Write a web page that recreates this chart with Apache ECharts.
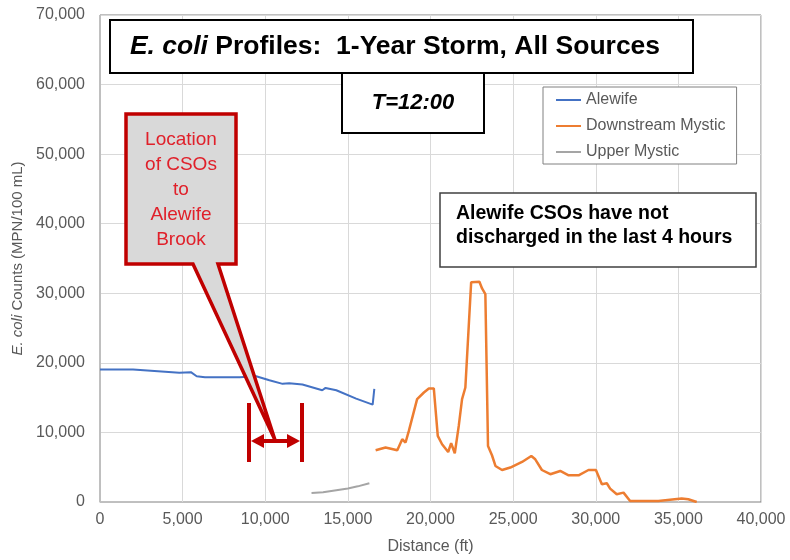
<!DOCTYPE html>
<html>
	<head>
		<meta charset="utf-8">
		<title>E. coli Profiles</title>
		<script src="https://cdn.jsdelivr.net/npm/echarts@6/dist/echarts.min.js"></script>
		<style>
			html, body { margin: 0; padding: 0; background: #fff; }
			#chart { width: 790px; height: 560px; }
		</style>
	</head>
	<body>
		<div id="chart"></div>
		<script>
			// 数据：距离 (ft) 与 E. coli 计数
			var seriesNames = ['Alewife', 'Downstream Mystic', 'Upper Mystic'];

			var alewifeX = [0, 2000, 4800, 5500, 5850, 6350, 8450, 9450, 10250, 11050, 11450, 12250, 13450, 13650, 14300, 15500, 16500, 16600];
			var alewifeY = [19050, 19050, 18570, 18660, 18080, 17940, 17940, 18080, 17500, 16980, 17070, 16880, 16060, 16400, 16060, 14860, 14000, 16260];

			var downX = [16680, 17280, 17990, 18290, 18490, 18690, 19190, 19600, 19900, 20200, 20440, 20700, 21070, 21250, 21470, 21710, 21910, 22110,
				22460, 22960, 23120, 23320, 23480, 23720, 23930, 24330, 24830, 25540, 26100, 26340, 26740, 27250, 27850, 28360, 28960,
				29560, 30010, 30370, 30670, 30870, 31270, 31680, 32080, 33790, 35200, 35600, 36110];
			var downY = [7440, 7830, 7440, 9020, 8550, 10220, 14780, 15740, 16320, 16320, 9500, 8300, 7190, 8450, 7010, 10940, 14780, 16460,
				31570, 31660, 30700, 29880, 8060, 6720, 5180, 4600, 4950, 5760, 6620, 6140, 4600, 3990, 4460, 3840, 3840,
				4600, 4600, 2550, 2690, 1930, 1110, 1350, 140, 140, 490, 390, 0];

			var upperX = [12800, 13500, 14300, 15000, 15600, 16300];
			var upperY = [1300, 1400, 1700, 1950, 2250, 2700];

			var colors = ['#4472c4', '#ed7d31', '#a5a5a5'];
			var FONT = '"Liberation Sans", Arial, sans-serif';

			function pairs(xs, ys) {
				var out = [];
				for (var i = 0; i < xs.length; i++) out.push([xs[i], ys[i]]);
				return out;
			}
			function comma(v) {
				return String(v).replace(/\B(?=(\d{3})+(?!\d))/g, ',');
			}

			var myChart = echarts.init(document.getElementById('chart'), null, { renderer: 'canvas' });

			var option = {
				animation: false,
				backgroundColor: '#fff',
				color: colors,
				grid: {
					left: 100, right: 29, top: 15, bottom: 57,
					show: true, borderColor: '#808080', borderWidth: 1
				},
				legend: {
					data: seriesNames,
					orient: 'vertical',
					left: 543, top: 87,
					padding: [5, 11, 4, 13],
					itemGap: 10,
					itemWidth: 25,
					itemHeight: 2,
					icon: 'rect',
					backgroundColor: '#fff',
					borderColor: '#808080',
					borderWidth: 1,
					textStyle: { fontSize: 16, color: '#595959', fontFamily: FONT },
					z: 10
				},
				xAxis: {
					type: 'value',
					min: 0, max: 40000, interval: 5000,
					name: 'Distance (ft)',
					nameLocation: 'middle',
					nameGap: 37,
					nameTextStyle: { fontSize: 16, color: '#595959', fontFamily: FONT },
					axisLine: { lineStyle: { color: '#bfbfbf' } },
					axisTick: { show: false },
					axisLabel: { fontSize: 16, color: '#595959', fontFamily: FONT, margin: 10, formatter: comma },
					splitLine: { lineStyle: { color: '#d9d9d9' } }
				},
				yAxis: {
					type: 'value',
					min: 0, max: 70000, interval: 10000,
					name: '{i|E. coli} Counts (MPN/100 mL)',
					nameLocation: 'middle',
					nameGap: 72,
					nameTextStyle: {
						fontSize: 15, color: '#595959', fontFamily: FONT,
						rich: { i: { fontStyle: 'italic', fontSize: 15, color: '#595959', fontFamily: FONT } }
					},
					axisLine: { show: true, lineStyle: { color: '#bfbfbf' } },
					axisTick: { show: false },
					axisLabel: { fontSize: 16, color: '#595959', fontFamily: FONT, margin: 15, formatter: comma },
					splitLine: { lineStyle: { color: '#d9d9d9' } }
				},
				series: [
					{ name: seriesNames[0], type: 'line', data: pairs(alewifeX, alewifeY), showSymbol: false, symbol: 'none', lineStyle: { width: 2, color: colors[0] } },
					{ name: seriesNames[1], type: 'line', data: pairs(downX, downY), showSymbol: false, symbol: 'none', lineStyle: { width: 2.5, color: colors[1] } },
					{ name: seriesNames[2], type: 'line', data: pairs(upperX, upperY), showSymbol: false, symbol: 'none', lineStyle: { width: 2, color: colors[2] } }
				],
				graphic: [
					// T=12:00 框
					{ type: 'rect', z: 20, shape: { x: 342, y: 73, width: 142, height: 60 }, style: { fill: '#fff', stroke: '#000', lineWidth: 2 } },
					{ type: 'text', z: 21, style: { x: 413, y: 103, text: 'T=12:00', textAlign: 'center', textVerticalAlign: 'middle',
						font: 'italic bold 22px ' + FONT, fill: '#000' } },
					// 标题框
					{ type: 'rect', z: 20, shape: { x: 110, y: 20, width: 583, height: 53 }, style: { fill: '#fff', stroke: '#000', lineWidth: 2 } },
					{ type: 'text', z: 21, style: { x: 395, y: 47, text: '{i|E. coli} Profiles:  1-Year Storm, All Sources',
						textAlign: 'center', textVerticalAlign: 'middle', font: 'bold 26.5px ' + FONT, fill: '#000',
						rich: { i: { font: 'italic bold 26.5px ' + FONT, fill: '#000' } } } },
					// 右侧说明框
					{ type: 'rect', z: 20, shape: { x: 440, y: 193, width: 316, height: 74 }, style: { fill: '#fff', stroke: '#404040', lineWidth: 1.5 } },
					{ type: 'text', z: 21, style: { x: 456, y: 202, text: 'Alewife CSOs have not\ndischarged in the last 4 hours',
						textAlign: 'left', textVerticalAlign: 'top', font: 'bold 19.5px ' + FONT, lineHeight: 24, fill: '#000' } },
					// 红色标注框
					{ type: 'polygon', z: 20, shape: { points: [[126, 114], [236, 114], [236, 264], [218, 264], [275, 440], [193, 264], [126, 264]] },
						style: { fill: '#d9d9d9', stroke: '#c00000', lineWidth: 3.5, lineJoin: 'miter' } },
					{ type: 'text', z: 21, style: { x: 181, y: 127, text: 'Location\nof CSOs\nto\nAlewife\nBrook',
						textAlign: 'center', textVerticalAlign: 'top', font: '19px ' + FONT, lineHeight: 25, fill: '#e0202a' } },
					// CSO 范围箭头
					{ type: 'rect', z: 22, shape: { x: 247, y: 403, width: 4, height: 59 }, style: { fill: '#c00000' } },
					{ type: 'rect', z: 22, shape: { x: 300, y: 403, width: 4, height: 59 }, style: { fill: '#c00000' } },
					{ type: 'line', z: 22, shape: { x1: 258, y1: 441, x2: 293, y2: 441 }, style: { stroke: '#c00000', lineWidth: 4 } },
					{ type: 'polygon', z: 22, shape: { points: [[251, 441], [264, 434], [264, 448]] }, style: { fill: '#c00000' } },
					{ type: 'polygon', z: 22, shape: { points: [[300, 441], [287, 434], [287, 448]] }, style: { fill: '#c00000' } }
				]
			};
			myChart.setOption(option);
		</script>
	</body>
</html>
